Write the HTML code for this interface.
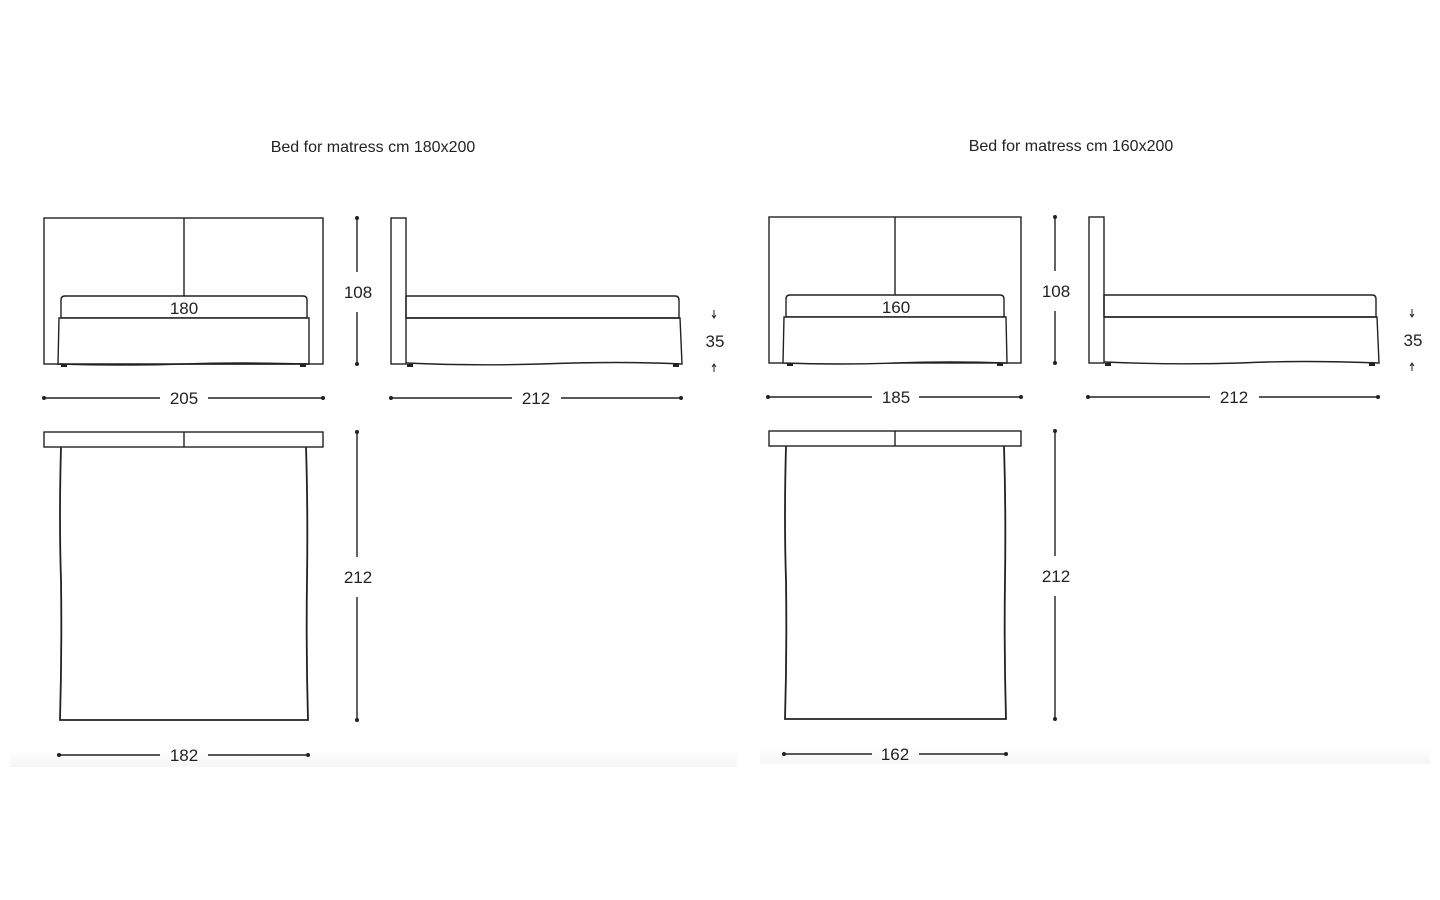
<!DOCTYPE html>
<html><head><meta charset="utf-8"><style>
html,body{margin:0;padding:0;background:#fff;width:1440px;height:900px;overflow:hidden}
svg{display:block}
text{font-family:"Liberation Sans",sans-serif;fill:#222}
.n{font-size:17px;text-anchor:middle}
.t{font-size:16px;text-anchor:middle}
</style></head><body>
<svg width="1440" height="900" viewBox="0 0 1440 900">
<defs>
<linearGradient id="sh" x1="0" y1="0" x2="0" y2="1">
<stop offset="0" stop-color="#fff"/><stop offset="1" stop-color="#f5f5f5"/>
</linearGradient>
</defs>
<rect x="10" y="750" width="727" height="17" fill="url(#sh)"/>
<rect x="760" y="748" width="670" height="16" fill="url(#sh)"/>
<g fill="none" stroke="#222" stroke-width="1.4">
<rect x="44" y="218" width="279" height="146"/>
<line x1="184" y1="218" x2="184" y2="296"/>
<path d="M61 318 V300 Q61 296 65 296 H303 Q307 296 307 300 V318 Z" fill="#fff"/>
<path d="M59 318 H309 L309 364 Q240 362 184 364 Q120 366 58 364 Z" fill="#fff"/>
<line x1="58" y1="364" x2="309" y2="364"/>
<line x1="357" y1="218" x2="357" y2="272"/><line x1="357" y1="312" x2="357" y2="364"/>
<line x1="44" y1="398" x2="160" y2="398"/><line x1="208" y1="398" x2="323" y2="398"/>
<rect x="391" y="218" width="15" height="146"/>
<path d="M406 318 V296 H675 Q679 296 679 300 V318 Z"/>
<path d="M406 318 H680 L682 364 Q620 361 540 364 Q470 366 406 363"/>
<line x1="391" y1="398" x2="512" y2="398"/><line x1="561" y1="398" x2="681" y2="398"/>
<rect x="44" y="432" width="279" height="15"/>
<line x1="184" y1="432" x2="184" y2="447"/>
<path d="M61 447 Q59 520 61 580 Q62 650 60 720 H308 Q306 650 307 580 Q308 510 306 447" stroke-width="1.8"/>
<line x1="357" y1="432" x2="357" y2="557"/><line x1="357" y1="597" x2="357" y2="720"/>
<line x1="59" y1="755" x2="160" y2="755"/><line x1="208" y1="755" x2="308" y2="755"/>

<rect x="769" y="217" width="252" height="146"/>
<line x1="895" y1="217" x2="895" y2="295"/>
<path d="M786 317 V299 Q786 295 790 295 H1000 Q1004 295 1004 299 V317 Z" fill="#fff"/>
<path d="M784 317 H1006 L1007 363 Q950 361 895 363 Q840 365 783 363 Z" fill="#fff"/>
<line x1="1055" y1="217" x2="1055" y2="271"/><line x1="1055" y1="311" x2="1055" y2="363"/>
<line x1="768" y1="397" x2="872" y2="397"/><line x1="919" y1="397" x2="1021" y2="397"/>
<rect x="1089" y="217" width="15" height="146"/>
<path d="M1104 317 V295 H1372 Q1376 295 1376 299 V317 Z"/>
<path d="M1104 317 H1377 L1379 363 Q1300 360 1240 363 Q1170 365 1104 362"/>
<line x1="1088" y1="397" x2="1210" y2="397"/><line x1="1259" y1="397" x2="1378" y2="397"/>
<rect x="769" y="431" width="252" height="15"/>
<line x1="895" y1="431" x2="895" y2="446"/>
<path d="M786 446 Q784 520 786 580 Q787 650 785 719 H1006 Q1004 650 1005 580 Q1006 510 1004 446" stroke-width="1.8"/>
<line x1="1055" y1="431" x2="1055" y2="556"/><line x1="1055" y1="596" x2="1055" y2="719"/>
<line x1="784" y1="754" x2="872" y2="754"/><line x1="919" y1="754" x2="1006" y2="754"/>
</g>
<g fill="#222">
<circle cx="357" cy="218" r="2"/><circle cx="357" cy="364" r="2"/>
<circle cx="44" cy="398" r="2"/><circle cx="323" cy="398" r="2"/>
<circle cx="391" cy="398" r="2"/><circle cx="681" cy="398" r="2"/>
<circle cx="357" cy="432" r="2"/><circle cx="357" cy="720" r="2"/>
<circle cx="59" cy="755" r="2"/><circle cx="308" cy="755" r="2"/>
<circle cx="1055" cy="217" r="2"/><circle cx="1055" cy="363" r="2"/>
<circle cx="768" cy="397" r="2"/><circle cx="1021" cy="397" r="2"/>
<circle cx="1088" cy="397" r="2"/><circle cx="1378" cy="397" r="2"/>
<circle cx="1055" cy="431" r="2"/><circle cx="1055" cy="719" r="2"/>
<circle cx="784" cy="754" r="2"/><circle cx="1006" cy="754" r="2"/>
<rect x="61" y="364" width="6" height="3"/><rect x="300" y="364" width="6" height="3"/>
<rect x="407" y="364" width="6" height="3"/><rect x="673" y="364" width="6" height="3"/>
<rect x="787" y="363" width="6" height="3"/><rect x="997" y="363" width="6" height="3"/>
<rect x="1105" y="363" width="6" height="3"/><rect x="1369" y="363" width="6" height="3"/>
<path d="M714 310 v7 M712 315 l2 3 l2 -3" stroke="#222" fill="none"/>
<path d="M714 372 v-7 M712 367 l2 -3 l2 3" stroke="#222" fill="none"/>
<path d="M1412 309 v7 M1410 314 l2 3 l2 -3" stroke="#222" fill="none"/>
<path d="M1412 371 v-7 M1410 366 l2 -3 l2 3" stroke="#222" fill="none"/>
</g>
<text class="t" x="373" y="152">Bed for matress cm 180x200</text>
<text class="t" x="1071" y="151">Bed for matress cm 160x200</text>
<text class="n" x="184" y="314">180</text>
<text class="n" x="358" y="298">108</text>
<text class="n" x="184" y="404">205</text>
<text class="n" x="536" y="404">212</text>
<text class="n" x="715" y="347">35</text>
<text class="n" x="358" y="583">212</text>
<text class="n" x="184" y="761">182</text>
<text class="n" x="896" y="313">160</text>
<text class="n" x="1056" y="297">108</text>
<text class="n" x="896" y="403">185</text>
<text class="n" x="1234" y="403">212</text>
<text class="n" x="1413" y="346">35</text>
<text class="n" x="1056" y="582">212</text>
<text class="n" x="895" y="760">162</text>
</svg>
</body></html>
